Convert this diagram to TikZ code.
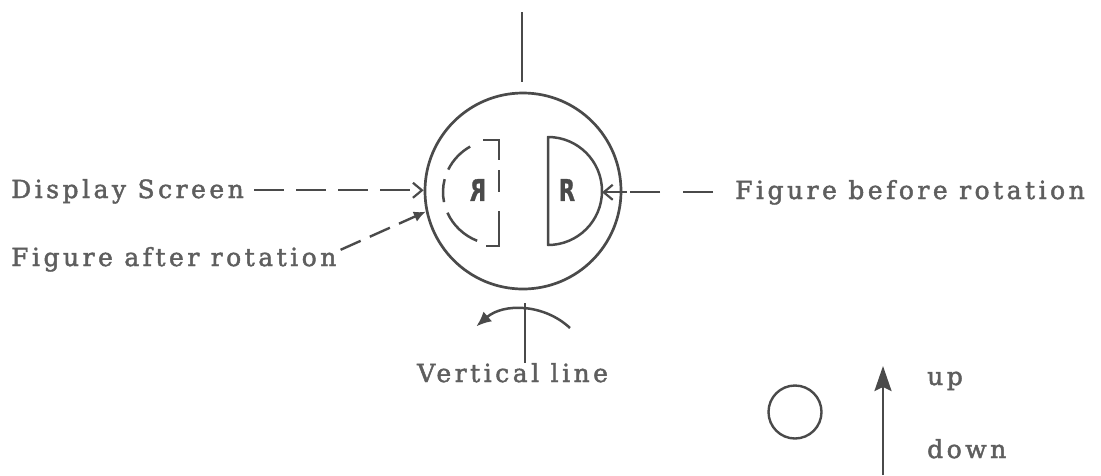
\documentclass[tikz,border=0pt]{standalone}
\usepackage{fontspec}
\setmainfont{DejaVu Serif}[LetterSpace=14,FakeBold=1.8]
\newfontfamily\rfont{DejaVu Sans}[FakeBold=1]
\usetikzlibrary{arrows.meta}
\definecolor{ink}{HTML}{4A4A4A}
\definecolor{txt}{HTML}{5E5E5E}
\begin{document}
\begin{tikzpicture}[x=1pt,y=-1pt,
  lbl/.style={text=txt, inner sep=0pt, font=\fontsize{25}{29}\selectfont},
  rtext/.style={text=ink, inner sep=0pt, font=\rfont\bfseries\fontsize{30}{32}\selectfont},
  ln/.style={ink, line width=2.5pt},
  dasharrow/.style={ink, line width=2.4pt, -{Straight Barb[length=9pt,width=15pt,line width=2.2pt]}}
]
\useasboundingbox (0,0) rectangle (1101,475);
% display screen
\node[circle, draw=ink, line width=2.7pt, minimum size=196pt, inner sep=0pt] (screen) at (523,191) {};
\draw[ln] (522,12) -- (522,82);
% figure before rotation (half disc)
\draw[ln, line join=round] (548,137) arc[start angle=-90, end angle=90, radius=54] -- cycle;
\coordinate (hd) at (602,191);
\node[rtext, xscale=0.7] (r1) at (567,190) {R};
% figure after rotation (dashed, mirrored)
\node[rtext, xscale=-0.7] (r2) at (478,190) {R};
\draw[ln] (483,140) -- (499,140) -- (499,160);
\draw[ln] (499,170) -- (499,192);
\draw[ln] (499,211) -- (499,246) -- (486,246);
\draw[ln] (499,192) ++(-121:56 and 53) arc[start angle=-121,end angle=-155,x radius=56,y radius=53];
\draw[ln] (499,192) ++(-166:56 and 53) arc[start angle=-166,end angle=-191,x radius=56,y radius=53];
\draw[ln] (499,192) ++(-203:56 and 53) arc[start angle=-203,end angle=-247,x radius=56,y radius=53];
% labels
\node[lbl, anchor=base west] (ds) at (11,198) {Display Screen};
\node[lbl, anchor=base west] (fa) at (11,266) {Figure after rotation};
\node[lbl, anchor=base west] (fb) at (735,199) {Figure before rotation};
\node[lbl, anchor=base west] (vl) at (417,382) {Vertical line};
\node[lbl, anchor=base west] (up) at (927,385) {up};
\node[lbl, anchor=base west] (down) at (927,458) {down};
% connectors
\coordinate (dsa) at ([xshift=10pt,yshift=1pt]ds.east);
\draw[dasharrow, dash pattern=on 30pt off 12pt] (dsa) -- (screen.west |- dsa);
\draw[dasharrow, dash pattern=on 30pt off 23pt on 30pt off 3pt on 100pt off 0pt] ([xshift=-22pt]fb.west) -- (hd |- fb.west);
\draw[ink, line width=2.4pt, dash pattern=on 22pt off 10pt, -{Latex[length=12pt,width=11pt]}] ([xshift=4pt,yshift=-3pt]fa.north east) -- (screen.192);
% rotation arrow
\coordinate (vt) at (525,303);
\draw[ln] (vt) -- (vt |- vl.north);
\draw[ln, -{Latex[length=15pt,width=13pt]}] (570,328) arc[start angle=-47, end angle=-131, radius=70];
% orientation key
\node[circle, draw=ink, line width=2.4pt, minimum size=53pt, inner sep=0pt] (dot) at (795,412) {};
\coordinate (ab) at (883,475);
\draw[ln, -{Stealth[length=25pt,width=17pt,inset=4pt]}] (ab) -- (883,366);
\end{tikzpicture}
\end{document}
